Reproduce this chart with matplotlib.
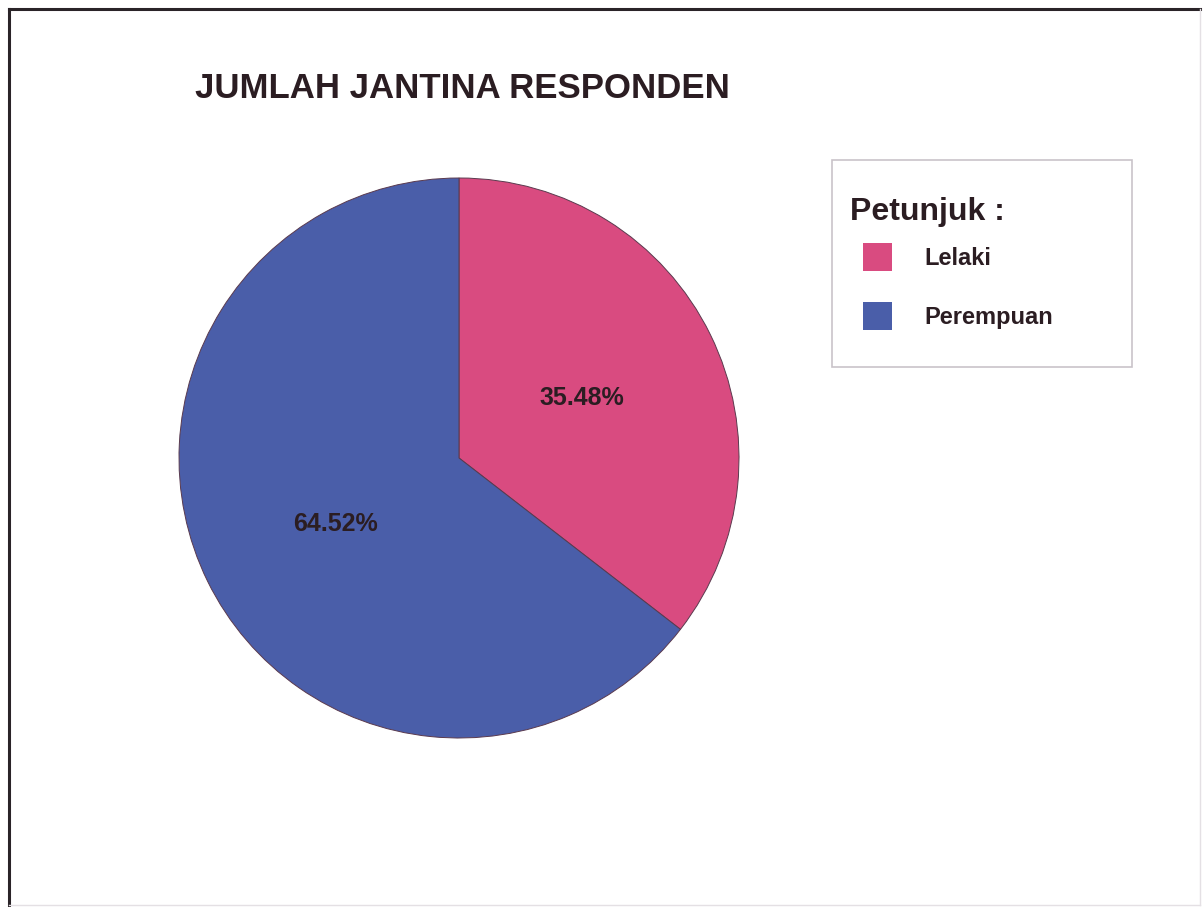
import matplotlib
matplotlib.use("Agg")
import matplotlib.pyplot as plt
from matplotlib.patches import Rectangle
from matplotlib.lines import Line2D

plt.rcParams['font.family'] = ['Liberation Sans', 'DejaVu Sans']

# Data
categories = ["Lelaki", "Perempuan"]
values = [35.48, 64.52]
colors = ["#d94b80", "#4a5ea9"]
title = "JUMLAH JANTINA RESPONDEN"
legend_title = "Petunjuk :"

W, H = 1204, 907
txt_color = "#2b1d22"

fig = plt.figure(figsize=(W / 100, H / 100), dpi=100)
fig.patch.set_facecolor("white")

# Outer frame
fig.add_artist(Line2D([9 / W, 9 / W], [1 - 905 / H, 1 - 9 / H], color="#2a2428", lw=2.2))
fig.add_artist(Line2D([9 / W, 1200 / W], [1 - 9 / H, 1 - 9 / H], color="#2a2428", lw=2.2))
fig.add_artist(Line2D([1200 / W, 1200 / W], [1 - 905 / H, 1 - 9 / H], color="#e4e0e4", lw=1))
fig.add_artist(Line2D([9 / W, 1200 / W], [1 - 905 / H, 1 - 905 / H], color="#e4e0e4", lw=1))

# Pie
ax = fig.add_axes([179 / W, 1 - 738 / H, 560 / W, 560 / H])
wedges, texts, autotexts = ax.pie(
    values, colors=colors, startangle=90, counterclock=False,
    autopct="%.2f%%", pctdistance=0.49, radius=1.0,
    wedgeprops=dict(edgecolor="#5a3a4e", linewidth=0.7),
    textprops=dict(fontsize=18, fontweight="bold", color=txt_color),
)
for w in wedges:
    w.set_clip_on(False)
# nudge the larger slice's label slightly lower, as in the reference
x, y = autotexts[1].get_position()
autotexts[1].set_position((x, y - 0.02))
ax.set_xlim(-1, 1)
ax.set_ylim(-1, 1)
ax.set_aspect("equal")
ax.axis("off")

# Title
fig.text(195 / W, 1 - 88 / H, title, fontsize=25, fontweight="bold",
         color=txt_color, ha="left", va="center")

# Legend box
fig.add_artist(Rectangle((832 / W, 1 - 367 / H), 300 / W, 207 / H,
                         transform=fig.transFigure, facecolor="white",
                         edgecolor="#c9c3c9", lw=1.2))
fig.text(850 / W, 1 - 212 / H, legend_title, fontsize=23, fontweight="bold",
         color=txt_color, ha="left", va="center")
leg = fig.legend(
    wedges, categories, loc="upper left",
    bbox_to_anchor=(863 / W, 1 - 243 / H), bbox_transform=fig.transFigure,
    frameon=False, borderpad=0, borderaxespad=0,
    handlelength=1.23, handleheight=1.45, handletextpad=1.35,
    labelspacing=1.3,
    prop=dict(size=17, weight="bold"),
)
for t in leg.get_texts():
    t.set_color(txt_color)
for h in leg.legend_handles:
    h.set_edgecolor("none")

fig.savefig("out.png", dpi=100, facecolor="white")
